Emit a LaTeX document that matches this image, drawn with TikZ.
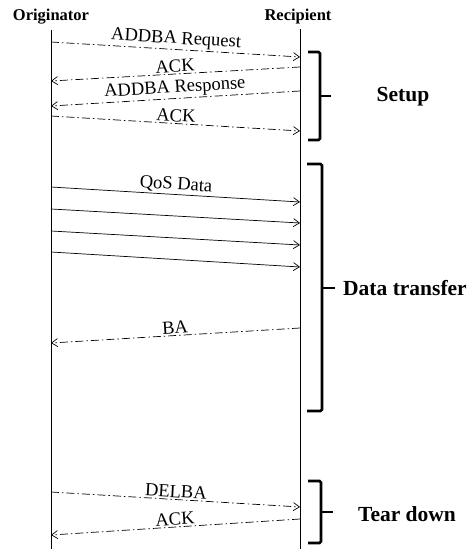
\documentclass[tikz,border=0pt]{standalone}
\usepackage{fontspec}
\setmainfont{Liberation Serif}
\usetikzlibrary{arrows.meta}

\begin{document}
\begin{tikzpicture}[x=1pt,y=-1pt,
    party/.style={font=\fontsize{16.5}{18}\selectfont\bfseries, inner sep=0pt},
    phase/.style={font=\fontsize{21.5}{24}\selectfont\bfseries, inner sep=0pt},
    lbl/.style={font=\fontsize{18.5}{20}\selectfont, above, sloped, midway, inner sep=0pt, yshift=1.5pt},
    msg/.style={draw, line width=0.7pt, -{Straight Barb[length=6pt,width=8pt,line width=0.7pt]}},
    dmsg/.style={msg, dash pattern=on 8pt off 3pt on 1.5pt off 3pt},
    brc/.style={draw, line width=2.6pt, rounded corners=1.5pt}]
        \useasboundingbox (0,0) rectangle (469,549);

        \node[party] (orig) at (51,17) {Originator};
        \node[party] (reci) at (298,17) {Recipient};

        % lifelines
        \coordinate (ot) at (51,30);
        \coordinate (ob) at (51,549);
        \coordinate (rt) at (300,29);
        \coordinate (rb) at (300,549);
        \path[draw,line width=0.8pt] (ot) -- (ob);
        \path[draw,line width=0.8pt] (rt) -- (rb);

        % setup
        \coordinate (o1) at (51,42);   \coordinate (r1) at (300,57);
        \coordinate (r2) at (300,67);  \coordinate (o2) at (51,81);
        \coordinate (r3) at (300,91);  \coordinate (o3) at (51,106);
        \coordinate (o4) at (51,116);  \coordinate (r4) at (300,131);
        \path[dmsg] (o1) -- node[lbl] (req) {ADDBA Request} (r1);
        \path[dmsg] (r2) -- node[lbl] (ack1) {ACK} (o2);
        \path[dmsg] (r3) -- node[lbl] (resp) {ADDBA Response} (o3);
        \path[dmsg] (o4) -- node[lbl] (ack2) {ACK} (r4);

        % data transfer
        \coordinate (o5) at (51,187);  \coordinate (r5) at (300,202);
        \coordinate (o6) at (51,209);  \coordinate (r6) at (300,223);
        \coordinate (o7) at (51,231);  \coordinate (r7) at (300,245);
        \coordinate (o8) at (51,252);  \coordinate (r8) at (300,267);
        \coordinate (r9) at (300,328); \coordinate (o9) at (51,343);
        \path[msg] (o5) -- node[lbl] (qos) {QoS Data} (r5);
        \path[msg] (o6) -- (r6);
        \path[msg] (o7) -- (r7);
        \path[msg] (o8) -- (r8);
        \path[dmsg] (r9) -- node[lbl] (ba) {BA} (o9);

        % tear down
        \coordinate (o10) at (51,492);  \coordinate (r10) at (300,507);
        \coordinate (r11) at (300,519); \coordinate (o11) at (51,535);
        \path[dmsg] (o10) -- node[lbl] (delba) {DELBA} (r10);
        \path[dmsg] (r11) -- node[lbl] (ack3) {ACK} (o11);

        % braces
        \path[brc] (308,52) -- (320,52) -- (320,140) -- (308,140);
        \path[brc] (320,96) -- (331,96);
        \path[brc] (307,164) -- (322,164) -- (322,411) -- (307,411);
        \path[brc] (322,288) -- (335,288);
        \path[brc] (308,481) -- (321,481) -- (321,543) -- (308,543);
        \path[brc] (321,512) -- (333,512);

        \node[phase] (setup) at (403,97) {Setup};
        \node[phase, anchor=west] (data) at (343,288) {Data transfer};
        \node[phase] (tear) at (407,514) {Tear down};
\end{tikzpicture}
\end{document}
